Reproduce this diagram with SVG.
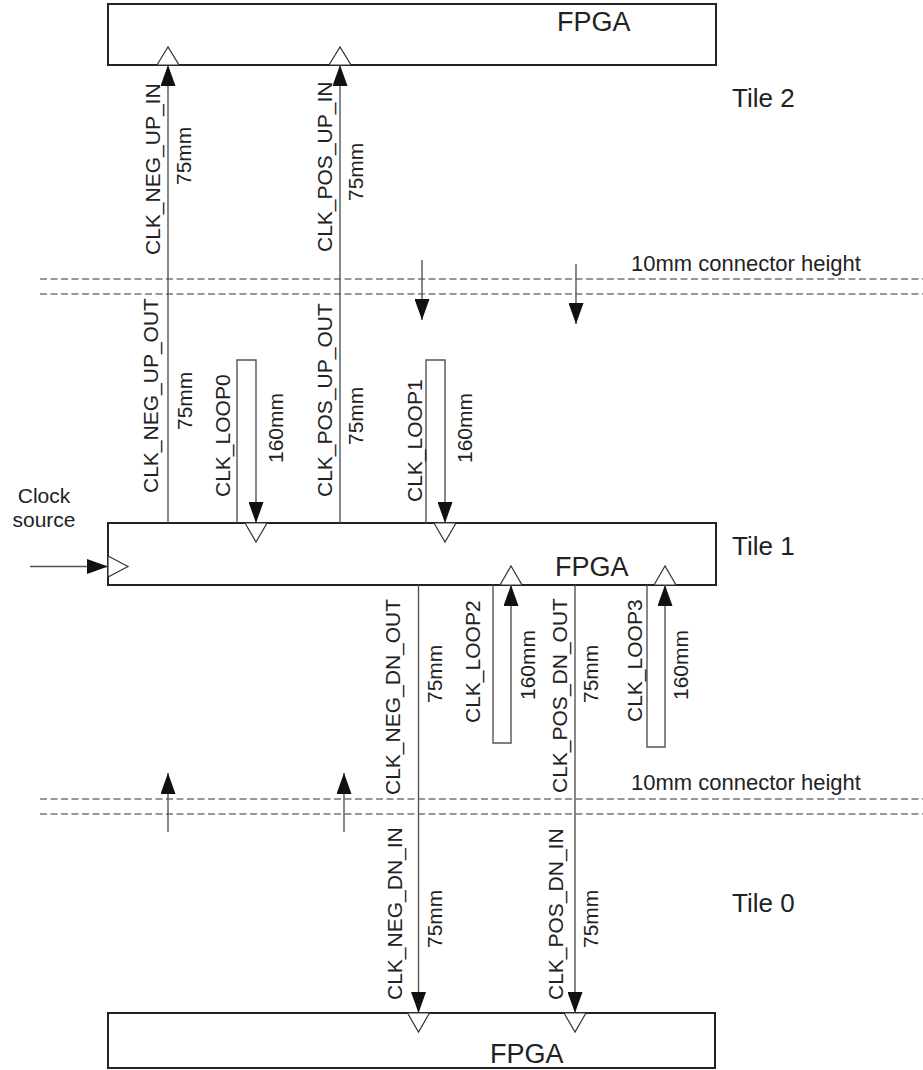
<svg xmlns="http://www.w3.org/2000/svg" width="923" height="1070" viewBox="0 0 923 1070">
  <style>
    .box { fill: #fff; stroke: #222; stroke-width: 2; }
    .pin { fill: #fff; stroke: #333; stroke-width: 1.2; stroke-linejoin: miter; }
    .wire { fill: none; stroke: #555; stroke-width: 1.4; }
    .dash { fill: none; stroke: #777; stroke-width: 1.4; stroke-dasharray: 7 3.5; }
    .t { font-family: "Liberation Sans", Arial, sans-serif; font-size: 21px; fill: #222; }
    .note { font-family: "Liberation Sans", Arial, sans-serif; font-size: 22px; fill: #222; }
    .fpga { font-family: "Liberation Sans", Arial, sans-serif; font-size: 27px; fill: #222; }
    .tile { font-family: "Liberation Sans", Arial, sans-serif; font-size: 26px; fill: #222; }
  </style>
  <defs>
    <marker id="arrow" markerUnits="userSpaceOnUse" markerWidth="21" markerHeight="15" refX="21" refY="7.5" orient="auto" viewBox="0 0 21 15">
      <path d="M0,0 L21,7.5 L0,15 z" fill="#111"/>
    </marker>
  </defs>
  <rect width="923" height="1070" fill="#fff"/>

  <!-- connector height guides -->
  <g id="guides">
    <line class="dash" x1="40" y1="279" x2="923" y2="279"/>
    <line class="dash" x1="40" y1="294" x2="923" y2="294"/>
    <line class="dash" x1="40" y1="799" x2="923" y2="799"/>
    <line class="dash" x1="40" y1="814" x2="923" y2="814"/>
    <text class="note" x="631" y="271">10mm connector height</text>
    <text class="note" x="631" y="790">10mm connector height</text>
  </g>

  <!-- FPGA of tile 2 -->
  <g id="fpga-tile2">
    <rect class="box" x="108" y="4" width="608" height="61"/>
    <text class="fpga" x="557" y="31">FPGA</text>
    <polygon class="pin" points="157,65 168,47 179,65"/>
    <polygon class="pin" points="329,65 340,47 351,65"/>
    <text class="tile" x="732" y="107">Tile 2</text>
  </g>

  <!-- FPGA of tile 1 -->
  <g id="fpga-tile1">
    <rect class="box" x="108" y="523" width="608" height="62"/>
    <text class="fpga" x="555" y="576">FPGA</text>
    <polygon class="pin" points="245,523 256,542 267,523"/>
    <polygon class="pin" points="434,523 445,542 456,523"/>
    <polygon class="pin" points="500,585 511,566 522,585"/>
    <polygon class="pin" points="654,585 665,566 676,585"/>
    <polygon class="pin" points="108,556 128,566.5 108,577"/>
    <text class="tile" x="732" y="555">Tile 1</text>
  </g>

  <!-- FPGA of tile 0 -->
  <g id="fpga-tile0">
    <rect class="box" x="108" y="1013" width="607" height="55"/>
    <text class="fpga" x="490" y="1063">FPGA</text>
    <polygon class="pin" points="407.5,1013 418.5,1032 429.5,1013"/>
    <polygon class="pin" points="564,1013 575,1032 586,1013"/>
    <text class="tile" x="732" y="912">Tile 0</text>
  </g>

  <!-- clock input -->
  <g id="clock-source">
    <text class="t" x="44" y="503" text-anchor="middle">Clock</text>
    <text class="t" x="44" y="527" text-anchor="middle">source</text>
  </g>

  <!-- clock routes -->
  <g id="connectors">
    <line class="wire" x1="30" y1="566.5" x2="108" y2="566.5" marker-end="url(#arrow)"/>
    <!-- upward routes to tile 2 -->
    <line class="wire" x1="168" y1="523" x2="168" y2="65" marker-end="url(#arrow)"/>
    <line class="wire" x1="340" y1="523" x2="340" y2="65" marker-end="url(#arrow)"/>
    <!-- downward routes to tile 0 -->
    <line class="wire" x1="418.5" y1="585" x2="418.5" y2="1013" marker-end="url(#arrow)"/>
    <line class="wire" x1="575" y1="585" x2="575" y2="1013" marker-end="url(#arrow)"/>
    <!-- loopbacks -->
    <path class="wire" d="M237,523 V360 H256 V523" marker-end="url(#arrow)"/>
    <path class="wire" d="M426,523 V360 H445 V523" marker-end="url(#arrow)"/>
    <path class="wire" d="M493,585 V743 H511 V585" marker-end="url(#arrow)"/>
    <path class="wire" d="M647,585 V747 H665 V585" marker-end="url(#arrow)"/>
    <!-- crossings through the connectors -->
    <line class="wire" x1="422" y1="260" x2="422" y2="320" marker-end="url(#arrow)"/>
    <line class="wire" x1="576" y1="264" x2="576" y2="324" marker-end="url(#arrow)"/>
    <line class="wire" x1="168" y1="832" x2="168" y2="773" marker-end="url(#arrow)"/>
    <line class="wire" x1="344" y1="832" x2="344" y2="773" marker-end="url(#arrow)"/>
  </g>

  <!-- signal names and trace lengths -->
  <g id="labels">
    <text class="t" transform="translate(160,255) rotate(-90)">CLK_NEG_UP_IN</text>
    <text class="t" transform="translate(191,185) rotate(-90)">75mm</text>
    <text class="t" transform="translate(332,252) rotate(-90)">CLK_POS_UP_IN</text>
    <text class="t" transform="translate(363,201) rotate(-90)">75mm</text>

    <text class="t" transform="translate(158,493) rotate(-90)">CLK_NEG_UP_OUT</text>
    <text class="t" transform="translate(192,430) rotate(-90)">75mm</text>
    <text class="t" transform="translate(230,497) rotate(-90)">CLK_LOOP0</text>
    <text class="t" transform="translate(283,463) rotate(-90)">160mm</text>
    <text class="t" transform="translate(332,497) rotate(-90)">CLK_POS_UP_OUT</text>
    <text class="t" transform="translate(363,445) rotate(-90)">75mm</text>
    <text class="t" transform="translate(422,502) rotate(-90)">CLK_LOOP1</text>
    <text class="t" transform="translate(472,463) rotate(-90)">160mm</text>

    <text class="t" transform="translate(400,795) rotate(-90)">CLK_NEG_DN_OUT</text>
    <text class="t" transform="translate(442,703) rotate(-90)">75mm</text>
    <text class="t" transform="translate(480,723) rotate(-90)">CLK_LOOP2</text>
    <text class="t" transform="translate(535,700) rotate(-90)">160mm</text>
    <text class="t" transform="translate(567,793) rotate(-90)">CLK_POS_DN_OUT</text>
    <text class="t" transform="translate(598,703) rotate(-90)">75mm</text>
    <text class="t" transform="translate(642,722) rotate(-90)">CLK_LOOP3</text>
    <text class="t" transform="translate(688,700) rotate(-90)">160mm</text>

    <text class="t" transform="translate(402,1000) rotate(-90)">CLK_NEG_DN_IN</text>
    <text class="t" transform="translate(442,948) rotate(-90)">75mm</text>
    <text class="t" transform="translate(563,1000) rotate(-90)">CLK_POS_DN_IN</text>
    <text class="t" transform="translate(598,948) rotate(-90)">75mm</text>
  </g>
</svg>
